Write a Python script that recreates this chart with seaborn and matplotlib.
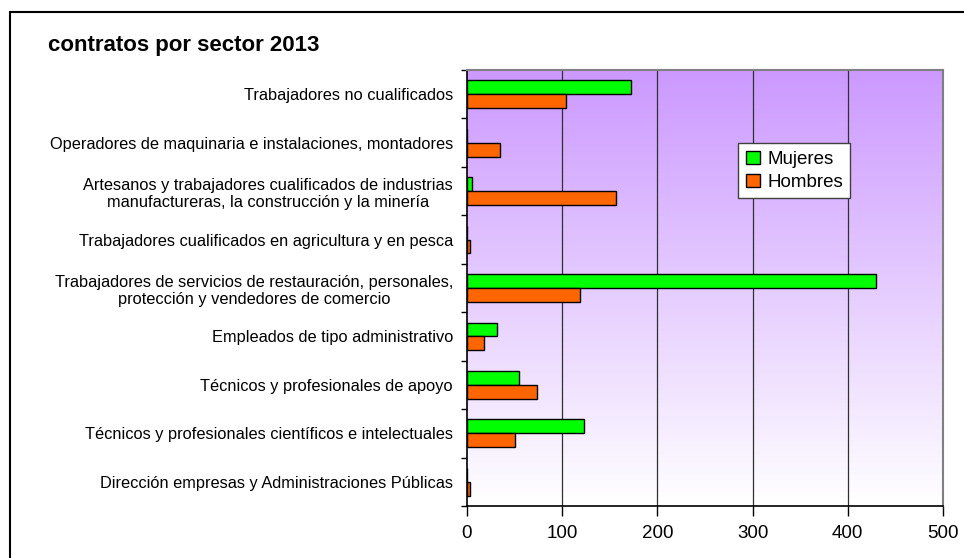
import numpy as np
import pandas as pd
import seaborn as sns
import matplotlib.pyplot as plt
from matplotlib.patches import Rectangle
from matplotlib.ticker import FixedLocator

# datos
sectores = [
    'Trabajadores no cualificados',
    'Operadores de maquinaria e instalaciones, montadores',
    'Artesanos y trabajadores cualificados de industrias\nmanufactureras, la construcción y la minería',
    'Trabajadores cualificados en agricultura y en pesca',
    'Trabajadores de servicios de restauración, personales,\nprotección y vendedores de comercio',
    'Empleados de tipo administrativo',
    'Técnicos y profesionales de apoyo',
    'Técnicos y profesionales científicos e intelectuales',
    'Dirección empresas y Administraciones Públicas',
]
mujeres = [172, 0, 5, 0, 430, 31, 55, 123, 0]
hombres = [104, 35, 156, 3, 119, 18, 74, 50, 3]
series = ['Mujeres', 'Hombres']
xticks = [0, 100, 200, 300, 400, 500]

df = pd.DataFrame({
    'Sector': sectores * 2,
    'Sexo': ['Mujeres'] * len(sectores) + ['Hombres'] * len(sectores),
    'Contratos': mujeres + hombres,
})

sns.set_style('white')
plt.rcParams['font.family'] = ['Liberation Sans', 'DejaVu Sans']
plt.rcParams['text.color'] = 'black'
plt.rcParams['xtick.color'] = 'black'
plt.rcParams['ytick.color'] = 'black'

fig = plt.figure(figsize=(9.64, 5.58), dpi=100)
W, H = 964, 558
ax = fig.add_axes([467 / W, 1 - 506 / H, (943 - 467) / W, (506 - 70) / H])

# fondo degradado morado -> blanco
grad = np.linspace(0, 1, 256).reshape(-1, 1)
top = np.array([204, 153, 255]) / 255
bot = np.array([255, 255, 255]) / 255
img = top * (1 - grad[..., None]) + bot * grad[..., None]
ax.imshow(img, extent=[0, 1, 0, 1], transform=ax.transAxes, aspect='auto', zorder=0)

sns.barplot(data=df, y='Sector', x='Contratos', hue='Sexo', hue_order=series,
            order=sectores, orient='h', palette=['#00FF00', '#FF6600'],
            saturation=1, edgecolor='black', linewidth=1.0, width=0.575,
            ax=ax, zorder=3, legend=True)

ax.set_xlim(0, 500)
ax.set_ylim(len(sectores) - 0.5, -0.5)
ax.set_xticks(xticks)
ax.set_xticklabels([str(t) for t in xticks], fontsize=13.5)
for t in xticks[1:-1]:
    ax.axvline(t, color='#303030', linewidth=0.9, zorder=1)

# ticks en los límites de categoría, etiquetas en el centro
ax.yaxis.set_major_locator(FixedLocator(np.arange(-0.5, len(sectores), 1.0)))
ax.yaxis.set_minor_locator(FixedLocator(np.arange(len(sectores))))
ax.set_yticklabels([], minor=False)
ax.set_yticklabels(sectores, minor=True, fontsize=11.8, multialignment='center')
ax.tick_params(axis='y', which='major', length=4, width=1, direction='out', left=True)
ax.tick_params(axis='y', which='minor', length=0, pad=10)
ax.tick_params(axis='x', length=7, width=1, direction='out', bottom=True, pad=7)

ax.set_xlabel('')
ax.set_ylabel('')

for s in ['left', 'bottom']:
    ax.spines[s].set_color('black')
    ax.spines[s].set_linewidth(1.2)
for s in ['top', 'right']:
    ax.spines[s].set_color('#808080')
    ax.spines[s].set_linewidth(1.5)
    ax.spines[s].set_visible(True)

leg = ax.legend(loc='upper left', bbox_to_anchor=((738 - 467) / 476, 1 - (143 - 70) / 436),
                frameon=True, fancybox=False, shadow=False, fontsize=13.5,
                handlelength=0.75, handleheight=0.75, handletextpad=0.4,
                borderpad=0.4, labelspacing=0.3, borderaxespad=0)
leg.get_frame().set_edgecolor('#404040')
leg.get_frame().set_linewidth(1.0)
leg.get_frame().set_facecolor('white')
leg.get_frame().set_alpha(1)

fig.text(48 / W, 1 - 45 / H, 'contratos por sector 2013', fontsize=16,
         fontweight='bold', va='center', ha='left')

# marco exterior
fig.patches.append(Rectangle((10 / W, -0.05), 1.1, 1 - 12 / H + 0.05,
                             transform=fig.transFigure, fill=False,
                             edgecolor='black', linewidth=1.5))

fig.savefig('out.png', dpi=100)
